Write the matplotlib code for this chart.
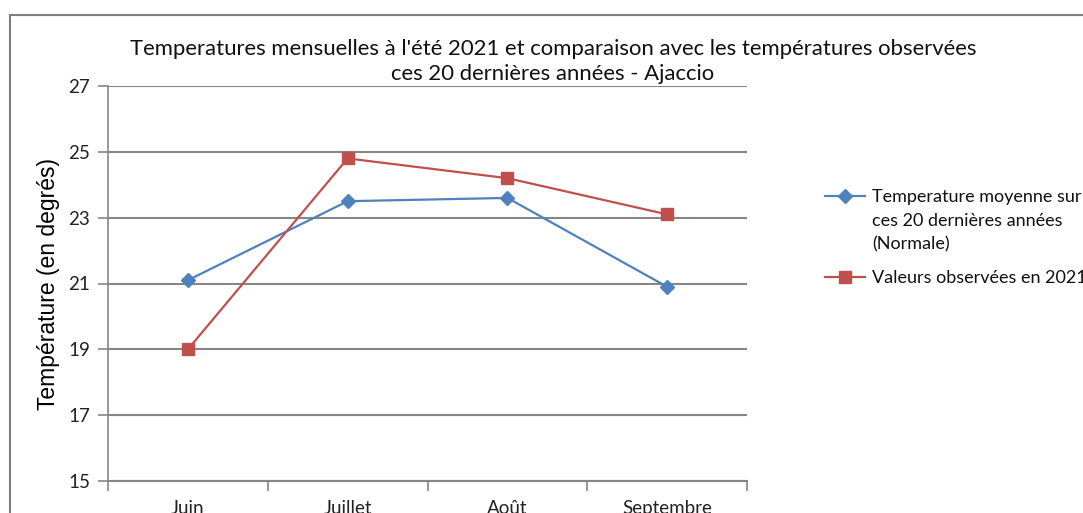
import matplotlib
matplotlib.use("Agg")
import matplotlib.pyplot as plt
from matplotlib.lines import Line2D

months = ["Juin", "Juillet", "Août", "Septembre"]
normale = [21.1, 23.5, 23.6, 20.9]
obs2021 = [19.0, 24.8, 24.2, 23.1]
yticks = [15, 17, 19, 21, 23, 25, 27]
label_normale = "Temperature moyenne sur\nces 20 dernières années\n(Normale)"
label_obs = "Valeurs observées en 2021"
title = ("Temperatures mensuelles à l'été 2021 et comparaison avec les températures observées\n"
         "ces 20 dernières années - Ajaccio")

W, H = 1083, 513
fig = plt.figure(figsize=(W / 100, H / 100), dpi=100)
ax = fig.add_axes([108 / W, 1 - 481 / H, (747 - 108) / W, (481 - 86) / H])

grid_c = "#868686"
blue, red = "#4F81BD", "#C0504D"
x = list(range(len(months)))
ax.plot(x, normale, color=blue, lw=1.6, marker="D", ms=7, mfc=blue, mec=blue)
ax.plot(x, obs2021, color=red, lw=1.6, marker="s", ms=8, mfc=red, mec=red)

ax.set_xlim(-0.5, len(months) - 0.5)
ax.set_ylim(15, 27)
ax.set_yticks(yticks)
ax.set_yticklabels([str(v) for v in yticks], fontsize=13.5, family="Lato", color="#222222")
ax.yaxis.grid(True, color=grid_c, lw=1.5)
ax.set_axisbelow(True)
ax.set_xticks([i - 0.5 for i in range(len(months) + 1)])
ax.set_xticklabels([])
ax.set_xticks(x, minor=True)
ax.set_xticklabels(months, minor=True, fontsize=13.5, family="Lato", color="#222222")
ax.tick_params(axis="x", which="minor", length=0, pad=14)
ax.tick_params(axis="x", which="major", length=7, color=grid_c, width=1.2)
ax.tick_params(axis="y", length=7, color=grid_c, width=1.2, pad=6)
for s in ["top", "right"]:
    ax.spines[s].set_visible(False)
ax.spines["left"].set_color(grid_c)
ax.spines["left"].set_linewidth(1.2)
ax.spines["bottom"].set_color(grid_c)
ax.spines["bottom"].set_linewidth(1.5)

ax.set_ylabel("Température (en degrés)", fontsize=16.5, family="Liberation Sans", labelpad=6)

fig.text(553 / W, 1 - 61.5 / H, title, ha="center", va="center", fontsize=15.9, family="Lato",
         linespacing=1.3, color="#111111")

# legend (drawn manually so the marker aligns with the first text line)
def fx(px):
    return px / W

def fy(py):
    return 1 - py / H

entries = [(label_normale, blue, "D", 7, 196), (label_obs, red, "s", 8, 277)]
for label, col, mk, ms, yc in entries:
    fig.add_artist(Line2D([fx(825), fx(865)], [fy(yc), fy(yc)], color=col, lw=1.6))
    fig.add_artist(Line2D([fx(845)], [fy(yc)], color=col, marker=mk, ms=ms, mfc=col, mec=col))
    for i, line in enumerate(label.split("\n")):
        fig.text(fx(872), fy(yc + 6 + i * 23.5), line, ha="left", va="baseline",
                 fontsize=13.0, family="Lato", color="#111111")

# chart area border
fig.add_artist(Line2D([10 / W, 10 / W], [0, 1 - 15 / H], color="#7f7f7f", lw=1.5))
fig.add_artist(Line2D([10 / W, 1], [1 - 15 / H, 1 - 15 / H], color="#7f7f7f", lw=1.5))

fig.savefig("out.png", dpi=100)
